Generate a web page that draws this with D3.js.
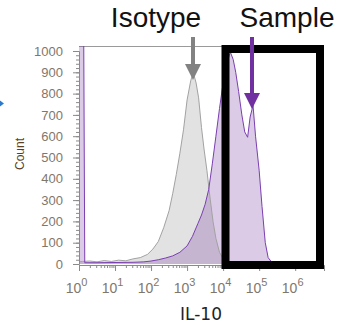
<!DOCTYPE html>
<html>
<head>
<meta charset="utf-8">
<script src="https://cdn.jsdelivr.net/npm/d3@7"></script>
<style>
  body { margin: 0; background: #fff; }
  svg { display: block; }
  .tick text { font-family: "Liberation Sans", Arial, sans-serif; }
</style>
</head>
<body>
<div id="chart"></div>
<script>
// log10(IL-10) bin centres and counts
const isoLog = [0.0, 0.1, 0.3, 0.5, 0.7, 0.9, 1.1, 1.3, 1.5, 1.7, 1.9, 2.05, 2.2, 2.35, 2.5, 2.6, 2.7, 2.8, 2.9, 3.0, 3.1, 3.17, 3.25, 3.32, 3.4, 3.47, 3.55, 3.63, 3.72, 3.8, 3.9, 4.0, 4.1, 4.2, 4.4, 4.6];
const isoCount = [10, 12, 14, 10, 16, 12, 18, 15, 24, 30, 45, 70, 105, 170, 250, 330, 420, 520, 630, 770, 860, 900, 850, 780, 640, 540, 440, 320, 200, 120, 55, 25, 15, 8, 4, 0];

const smpLog = [0.0, 0.13, 0.16, 0.5, 1.0, 1.5, 1.8, 2.0, 2.2, 2.4, 2.6, 2.8, 3.0, 3.15, 3.3, 3.4, 3.5, 3.6, 3.7, 3.8, 3.9, 4.0, 4.1, 4.2, 4.28, 4.35, 4.43, 4.52, 4.6, 4.68, 4.75, 4.83, 4.9, 5.0, 5.08, 5.17, 5.25, 5.35, 5.5];
const smpCount = [1100, 1100, 6, 6, 7, 8, 10, 14, 20, 28, 38, 55, 85, 130, 190, 230, 280, 350, 470, 600, 730, 850, 940, 995, 960, 900, 810, 700, 620, 595, 690, 745, 600, 440, 270, 100, 30, 8, 0];

const yTicks = [0, 100, 200, 300, 400, 500, 600, 700, 800, 900, 1000];
const xTicks = [0, 1, 2, 3, 4, 5, 6];

const width = 345, height = 330;
const svg = d3.select('#chart').append('svg')
  .attr('width', width)
  .attr('height', height);

const x = d3.scaleLinear().domain([0, 6.8]).range([79, 324]);
const y = d3.scaleLinear().domain([0, 1000]).range([264, 51]);
const plotTop = 46;

svg.append('defs').append('clipPath').attr('id', 'plot')
  .append('rect')
  .attr('x', x(0)).attr('y', plotTop)
  .attr('width', x(6.8) - x(0)).attr('height', y(0) - plotTop + 1);

// frame top line
svg.append('line')
  .attr('x1', x(0)).attr('x2', x(6.8))
  .attr('y1', plotTop + 0.5).attr('y2', plotTop + 0.5)
  .attr('stroke', '#9a9a9a');

const iso = isoLog.map((v, i) => [v, isoCount[i]]);
const smp = smpLog.map((v, i) => [v, smpCount[i]]);

const area = d3.area().x(d => x(d[0])).y0(y(0)).y1(d => y(d[1]));
const line = d3.line().x(d => x(d[0])).y(d => y(d[1]));

const g = svg.append('g').attr('clip-path', 'url(#plot)');
g.append('path').datum(iso).attr('d', area).attr('fill', '#e2e2e2');
g.append('path').datum(smp).attr('d', area).attr('fill', 'rgba(112,48,160,0.25)');
g.append('path').datum(iso).attr('d', line)
  .attr('fill', 'none').attr('stroke', '#a2a2a2').attr('stroke-width', 1);
g.append('path').datum(smp).attr('d', line)
  .attr('fill', 'none').attr('stroke', '#7a3fb0').attr('stroke-width', 1);

// y axis
const tickColor = '#7f776c';
const yAxis = svg.append('g')
  .attr('transform', `translate(${x(0)},0)`)
  .call(d3.axisLeft(y).tickValues(yTicks).tickSize(6).tickPadding(10).tickFormat(d3.format('d')));
svg.append('g')
  .attr('transform', `translate(${x(0)},0)`)
  .call(d3.axisLeft(y).tickValues(d3.range(0, 1001, 20)).tickSize(3).tickFormat(''))
  .call(a => a.select('.domain').remove());
yAxis.selectAll('text').attr('font-size', 13).attr('fill', tickColor);

// x axis
const xAxis = svg.append('g')
  .attr('transform', `translate(0,${y(0) + 1})`)
  .call(d3.axisBottom(x).tickValues(xTicks).tickSize(6).tickPadding(6).tickFormat(''));
const minors = [];
xTicks.forEach(n => { for (let k = 2; k <= 9; k++) { if (n + Math.log10(k) < 6.8) minors.push(n + Math.log10(k)); } });
svg.append('g')
  .attr('transform', `translate(0,${y(0) + 1})`)
  .call(d3.axisBottom(x).tickValues(minors).tickSize(3).tickFormat(''))
  .call(a => a.select('.domain').remove());
xAxis.selectAll('.tick').append('text')
  .attr('y', 28)
  .attr('x', -3)
  .attr('text-anchor', 'middle')
  .attr('fill', tickColor)
  .attr('font-size', 14)
  .text('10')
  .append('tspan')
  .attr('dy', -7)
  .attr('font-size', 11)
  .text(d => d);

svg.selectAll('.domain, .tick line').attr('stroke', '#8a8a8a');

// axis titles
svg.append('text')
  .attr('transform', `translate(24,154) rotate(-90)`)
  .attr('text-anchor', 'middle')
  .attr('font-family', 'Liberation Sans, Arial, sans-serif')
  .attr('font-size', 12)
  .attr('fill', '#5b3f25')
  .text('Count');

svg.append('text')
  .attr('x', 201).attr('y', 320)
  .attr('text-anchor', 'middle')
  .attr('font-family', 'DejaVu Sans, sans-serif')
  .attr('font-size', 17)
  .attr('fill', '#222')
  .text('IL-10');

// gate box
svg.append('rect')
  .attr('x', 225.5).attr('y', 49)
  .attr('width', 94.5).attr('height', 216)
  .attr('fill', 'none').attr('stroke', '#000').attr('stroke-width', 8);

// labels and arrows
const labels = [
  { text: 'Isotype', cx: 156, ax: 193, tip: 80, color: '#828282' },
  { text: 'Sample', cx: 287, ax: 252, tip: 109, color: '#7030a0' }
];
labels.forEach(l => {
  svg.append('text')
    .attr('x', l.cx).attr('y', 27)
    .attr('text-anchor', 'middle')
    .attr('font-family', 'Liberation Sans, Arial, sans-serif')
    .attr('font-size', 28)
    .attr('fill', '#111')
    .text(l.text);
  svg.append('line')
    .attr('x1', l.ax).attr('x2', l.ax)
    .attr('y1', 37).attr('y2', l.tip - 12)
    .attr('stroke', l.color).attr('stroke-width', 4);
  svg.append('path')
    .attr('d', `M${l.ax - 8},${l.tip - 16}L${l.ax + 8},${l.tip - 16}L${l.ax},${l.tip}Z`)
    .attr('fill', l.color);
});

// partial blue arrowhead at left edge
svg.append('path')
  .attr('d', 'M-2,99L4,103.5L-2,108Z')
  .attr('fill', '#2a7bd0');
</script>
</body>
</html>
